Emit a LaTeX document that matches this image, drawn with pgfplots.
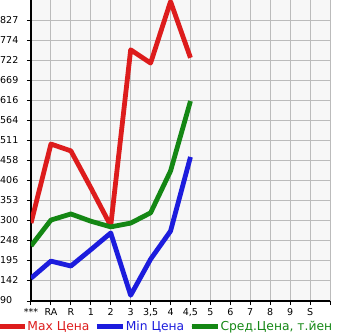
\documentclass[border=0pt]{standalone}
\usepackage{pgfplots}
\pgfplotsset{compat=1.18}
\usepackage{fontspec}
\setmainfont{DejaVu Sans}
\definecolor{cred}{RGB}{221,28,28}
\definecolor{cblue}{RGB}{28,28,221}
\definecolor{cgreen}{RGB}{20,135,20}
\definecolor{cgrid}{RGB}{187,187,187}
\definecolor{cbg}{RGB}{247,247,247}
\begin{document}
\begin{tikzpicture}
\useasboundingbox (-31pt,-34pt) rectangle (314pt,301pt);
\begin{axis}[
  scale only axis, width=299pt, height=301pt,
  xmin=0, xmax=15, ymin=90, ymax=882,
  axis lines=left, axis line style={-, black, line width=1.8pt},
  axis background/.style={fill=cbg},
  grid=major, major grid style={cgrid, line width=1pt},
  xtick={0,...,15},
  xticklabels={\raisebox{-2.5pt}{***},RA,R,1,2,3,{3,5},4,{4,5},5,6,7,8,9,S,},
  ytick={90,142.64,195.29,247.93,300.57,353.21,405.86,458.5,511.14,563.79,616.43,669.07,721.71,774.36,827},
  yticklabels={90,142,195,248,300,353,406,458,511,564,616,669,722,774,827},
  tick align=outside, major tick length=4pt, tick style={black, line width=1pt},
  /pgf/number format/assume math mode=true,
  ticklabel style={font=\fontsize{9.5}{11}\selectfont},
  yticklabel style={anchor=west, inner sep=0pt, xshift=-27pt, yshift=1pt},
  xticklabel style={inner sep=0pt, yshift=-3pt},
  legend style={at={(0,0)}, anchor=north west, xshift=-35pt, yshift=-19pt, draw=none, fill=none,
    inner sep=0pt, font=\fontsize{12.3}{14}\selectfont, legend columns=3,
    /tikz/every even column/.append style={column sep=5pt},
    nodes={inner ysep=1pt, inner xsep=0pt}},
  legend image code/.code={\draw[#1, line cap=round] (0pt,0pt) -- (17pt,0pt);
     \path (-2.5pt,0pt) -- (24pt,0pt);},
  every axis plot/.append style={line width=4.8pt, line join=round, mark=none},
]
\addplot[cred] coordinates {(0,295) (1,503) (2,485) (3,388) (4,288) (5,751) (6,716) (7,878) (8,730)};
\addlegendentry{\textcolor{cred}{Max Цена}}
\addplot[cblue] coordinates {(0,150) (1,195) (2,182) (3,225) (4,269) (5,105) (6,200) (7,274) (8,469)};
\addlegendentry{\textcolor{cblue}{Min Цена}}
\addplot[cgreen] coordinates {(0,235) (1,303) (2,319) (3,300) (4,285) (5,295) (6,322) (7,432) (8,616)};
\addlegendentry{\textcolor{cgreen}{Сред.Цена, т.йен}}
\end{axis}
\end{tikzpicture}
\end{document}
